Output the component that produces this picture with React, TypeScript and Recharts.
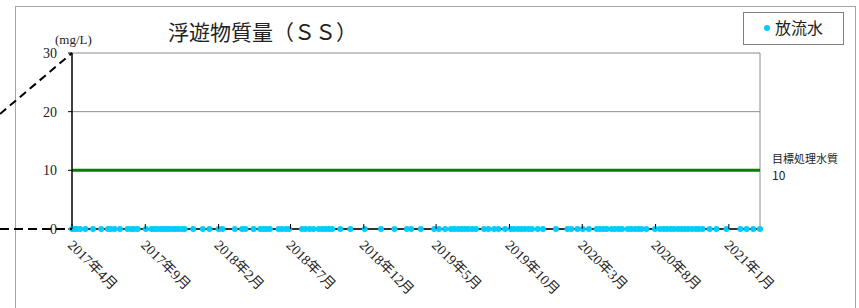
import React from "react";
import {
  ScatterChart,
  Scatter,
  XAxis,
  YAxis,
  CartesianGrid,
  ReferenceLine,
} from "recharts";

// sampling days, counted from 2017-04-01
const sampleDays = [
  0, 5, 10, 17, 28, 44, 61, 75, 81, 89, 100, 116, 123, 129, 137, 154, 166, 172,
  178, 185, 191, 197, 203, 210, 216, 222, 229, 235, 253, 273, 287, 306, 314,
  340, 355,
  362, 379, 393, 400, 406, 413, 431, 438, 446, 453, 480, 487, 496, 504, 515,
  522, 529, 536, 543, 560, 581, 611, 645, 673, 699, 708,
  728, 756, 766, 779, 791, 798, 806, 813, 820, 827, 835, 843, 860, 869, 881,
  890, 904, 916, 923, 931, 938, 945, 953, 960, 972, 983, 1010, 1034, 1042,
  1055, 1066, 1079,
  1095, 1102, 1109, 1116, 1126, 1133, 1141, 1148, 1160, 1167, 1175, 1182, 1189,
  1199, 1217, 1227, 1235, 1242, 1250, 1257, 1265, 1272, 1279, 1286, 1294, 1302,
  1308, 1316, 1331, 1345, 1366, 1395, 1408, 1422, 1436,
];

// 放流水 SS (mg/L)
const ssValues = [
  0, 0, 0, 0, 0, 0, 0, 0, 0, 0, 0, 0, 0, 0, 0, 0, 0, 0,
  0, 0, 0, 0, 0, 0, 0, 0, 0, 0, 0, 0, 0, 0, 0,
  0, 0,
  0, 0, 0, 0, 0, 0, 0, 0, 0, 0, 0, 0, 0, 0, 0,
  0, 0, 0, 0, 0, 0, 0, 0, 0, 0, 0,
  0, 0, 0, 0, 0, 0, 0, 0, 0, 0, 0, 0, 0, 0, 0,
  0, 0, 0, 0, 0, 0, 0, 0, 0, 0, 0, 0, 0, 0,
  0, 0, 0,
  0, 0, 0, 0, 0, 0, 0, 0, 0, 0, 0, 0, 0,
  0, 0, 0, 0, 0, 0, 0, 0, 0, 0, 0, 0, 0,
  0, 0, 0, 0, 0, 0, 0, 0, 0,
];

const tickMonths = [
  [2017, 4], [2017, 9], [2018, 2], [2018, 7], [2018, 12],
  [2019, 5], [2019, 10], [2020, 3], [2020, 8], [2021, 1],
];
const tickLabels = [
  "2017年4月", "2017年9月", "2018年2月", "2018年7月", "2018年12月",
  "2019年5月", "2019年10月", "2020年3月", "2020年8月", "2021年1月",
];
const yTicks = [0, 10, 20, 30];
const targetValue = 10;
const targetLabel = "目標処理水質";
const seriesName = "放流水";
const title = "浮遊物質量（ＳＳ）";
const unit = "(mg/L)";

const START = Date.UTC(2017, 3, 1);
const DAY = 86400000;
const tickDays = tickMonths.map(([y, m]) => Math.round((Date.UTC(y, m - 1, 1) - START) / DAY));

const data = sampleDays.map((d, i) => ({ day: d, ss: ssValues[i] }));

const W = 859;
const H = 308;
const PLOT_LEFT = 72;
const PLOT_TOP = 53;
const PLOT_BOTTOM = 229;
const PLOT_RIGHT = 760;

const SERIF = "'Liberation Serif', 'DejaVu Serif', 'Noto Sans CJK JP', serif";
const SANS = "'Noto Sans CJK JP', 'Noto Sans', sans-serif";
const CYAN = "#00CCFF";

const XTick = (props: any) => {
  const { x, y, payload } = props;
  const i = tickDays.indexOf(payload.value);
  const tx = x - 5;
  const ty = y + 17;
  return (
    <g>
      <line x1={x} y1={y} x2={x} y2={y - 5} stroke="#000" strokeWidth={1} />
      <text
        x={tx}
        y={ty}
        transform={`rotate(45 ${tx} ${ty})`}
        fontFamily={SERIF}
        fontSize={14}
        fill="#222"
      >
        {tickLabels[i]}
      </text>
    </g>
  );
};

const TargetLabel = (props: any) => {
  const { viewBox } = props;
  const x = viewBox.x + viewBox.width + 12;
  const y = viewBox.y;
  return (
    <g fontFamily={SANS} fill="#222">
      <text x={x} y={y - 7} fontSize={11}>
        {targetLabel}
      </text>
      <text x={x} y={y + 10} fontSize={12}>
        {targetValue}
      </text>
    </g>
  );
};

export default function App() {
  return (
    <div
      style={{
        position: "absolute",
        left: 0,
        top: 0,
        width: W,
        height: H,
        overflow: "hidden",
        background: "#fff",
      }}
    >
      <div
        style={{
          position: "absolute",
          left: 15,
          top: 6,
          width: 839,
          height: 400,
          border: "1px solid #a6a6a6",
        }}
      />
      <div style={{ position: "absolute", left: 0, top: 0 }}>
        <ScatterChart
          width={W}
          height={H}
          margin={{ top: PLOT_TOP, right: W - PLOT_RIGHT, bottom: 19, left: 0 }}
        >
          <CartesianGrid horizontal vertical={false} stroke="#8c8c8c" />
          <XAxis
            dataKey="day"
            type="number"
            domain={[sampleDays[0], sampleDays[sampleDays.length - 1]]}
            ticks={tickDays}
            interval={0}
            tickSize={0}
            tickMargin={0}
            tickLine={false}
            tick={<XTick />}
            height={H - PLOT_BOTTOM - 19}
            axisLine={{ stroke: "#000", strokeWidth: 1.5 }}
          />
          <YAxis
            dataKey="ss"
            type="number"
            domain={[0, 30]}
            ticks={yTicks}
            interval={0}
            width={PLOT_LEFT}
            tickSize={4}
            tickMargin={11}
            tick={{ fontFamily: SERIF, fontSize: 14, fill: "#222" }}
            axisLine={{ stroke: "#000", strokeWidth: 1.5 }}
            tickLine={{ stroke: "#000" }}
          />
          <ReferenceLine
            x={sampleDays[sampleDays.length - 1]}
            stroke="#8c8c8c"
          />
          <ReferenceLine
            y={targetValue}
            stroke="#008000"
            strokeWidth={3}
            label={<TargetLabel />}
          />
          <Scatter
            name={seriesName}
            data={data}
            fill={CYAN}
            isAnimationActive={false}
            shape={(p: any) => <circle cx={p.cx} cy={p.cy} r={3} fill={CYAN} />}
          />
        </ScatterChart>
      </div>
      <svg
        width={W}
        height={H}
        style={{ position: "absolute", left: 0, top: 0, pointerEvents: "none" }}
      >
        <line
          x1={0}
          y1={PLOT_TOP + 61}
          x2={PLOT_LEFT}
          y2={PLOT_TOP}
          stroke="#000"
          strokeWidth={2}
          strokeDasharray="8 5"
        />
        <line
          x1={0}
          y1={PLOT_BOTTOM}
          x2={PLOT_LEFT}
          y2={PLOT_BOTTOM}
          stroke="#000"
          strokeWidth={2}
          strokeDasharray="9 5"
        />
        <text x={168} y={40} fontFamily={SANS} fontSize={21} fill="#222">
          {title}
        </text>
        <text x={55} y={44} fontFamily={SERIF} fontSize={13} fill="#222">
          {unit}
        </text>
        <rect x={743.5} y={12.5} width={100} height={32} fill="#fff" stroke="#808080" />
        <circle cx={767} cy={28} r={3} fill={CYAN} />
        <text x={775} y={34} fontFamily={SANS} fontSize={16} fill="#222">
          {seriesName}
        </text>
      </svg>
    </div>
  );
}
